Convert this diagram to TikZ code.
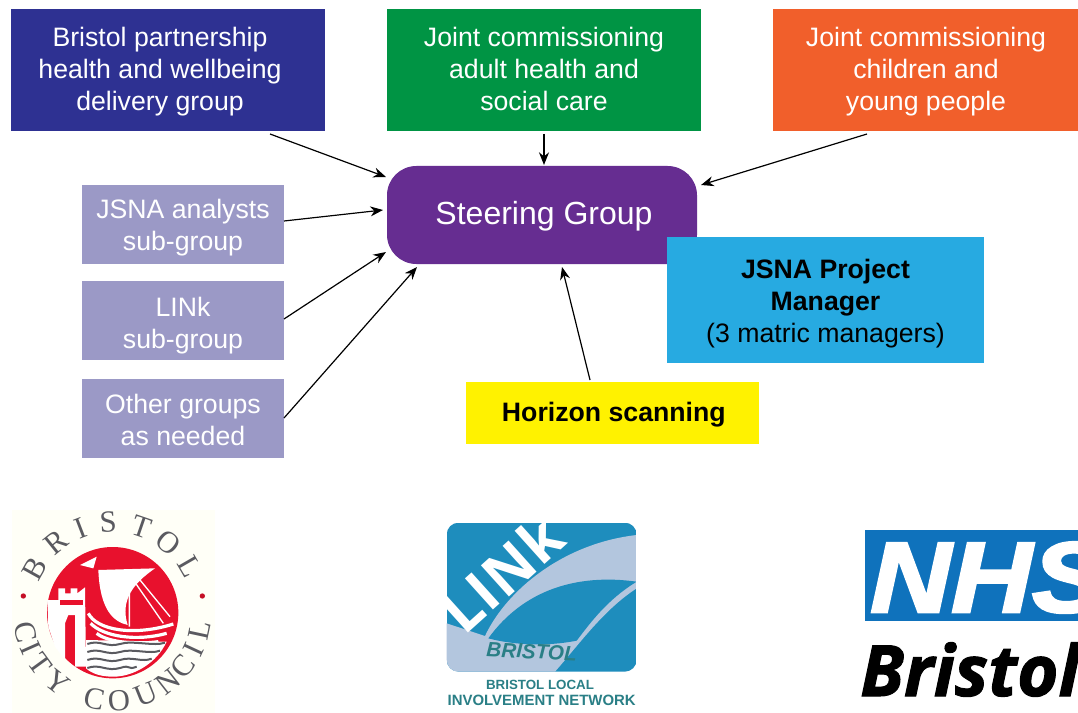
\documentclass[tikz,border=0pt]{standalone}
\usepackage{fontspec}
\setmainfont{Liberation Sans}
\newfontfamily\logoserif{Liberation Serif}
\newfontfamily\logosans[BoldItalicFeatures={FakeBold=1.5}]{Open Sans}
\newfontfamily\nhsfont[BoldItalicFeatures={FakeBold=2.5}]{Liberation Sans}
\usetikzlibrary{arrows.meta}
\definecolor{cblue}{HTML}{2E3192}
\definecolor{cgreen}{HTML}{009444}
\definecolor{corange}{HTML}{F15F2B}
\definecolor{cpurple}{HTML}{662D91}
\definecolor{clilac}{HTML}{9B99C6}
\definecolor{csky}{HTML}{27AAE1}
\definecolor{cyellow}{HTML}{FFF200}
\definecolor{cred}{HTML}{E8112D}
\definecolor{clinkb}{HTML}{1E8DBD}
\definecolor{clinkl}{HTML}{B3C6DE}
\definecolor{cteal}{HTML}{2A7F86}
\definecolor{cnhs}{HTML}{0F72BC}
\definecolor{cgrey}{HTML}{5A5A60}
\newcommand\lbl[3]{\kern#1pt\raisebox{#2pt}[0pt][0pt]{\begin{tabular}{@{}c@{}}#3\end{tabular}}\kern-#1pt}
\tikzset{
  box/.style={anchor=north west,inner sep=0pt,outer sep=0pt,text=white,font=\fontsize{20}{24}\selectfont},
  sub/.style={box,fill=clilac,minimum width=151.5pt,minimum height=59.25pt},
  top/.style={box,minimum height=91.5pt},
  conn/.style={-{Stealth[length=9.5pt,width=7.5pt]},line width=0.9pt,black},
  ltr/.style={text=cgrey,inner sep=0pt,font=\fontsize{23}{23}\logoserif},
}
\begin{document}
\begin{tikzpicture}[x=0.75pt,y=-0.75pt]
\useasboundingbox (0,0) rectangle (1078,713);
\fill[white] (0,0) rectangle (1078,713);
\begin{scope}
\clip (0,0) rectangle (1078,713);
\node[top,fill=cblue,minimum width=235.5pt] (partner) at (11,9) {\lbl{-6}{-6.75}{Bristol partnership\\health and wellbeing\\delivery group}};
\node[top,fill=cgreen,minimum width=235.5pt] (adult) at (387,9) {\lbl{0}{-6.75}{Joint commissioning\\adult health and\\social care}};
\node[top,fill=corange,minimum width=229.5pt] (child) at (773,9) {\lbl{0}{-6.75}{Joint commissioning\\children and\\young people}};
\node[box,fill=cpurple,rounded corners=22pt,minimum width=232.5pt,minimum height=73.5pt,font=\fontsize{24}{28}\selectfont] (steer) at (387,166) {\lbl{1.5}{-8}{Steering Group}};
\node[sub] (analysts) at (82,185) {\lbl{0}{-8.25}{JSNA analysts\\sub-group}};
\node[sub] (link) at (82,281) {\lbl{0}{-9.25}{LINk\\sub-group}};
\node[sub] (other) at (82,379) {\lbl{0}{-8.5}{Other groups\\as needed}};
\node[box,fill=csky,text=black,minimum width=237.75pt,minimum height=94.5pt] (pm) at (667,237) {\lbl{0}{-8.25}{\textbf{JSNA Project}\\\textbf{Manager}\\(3 matric managers)}};
\node[box,fill=cyellow,text=black,minimum width=219.75pt,minimum height=46.5pt] (horizon) at (466,382) {\lbl{1}{-6.75}{\textbf{Horizon scanning}}};
\end{scope}
\coordinate (sA) at (386,177);
\coordinate (sB) at (544,165);
\coordinate (sC) at (701,185);
\coordinate (sD) at (383,210);
\coordinate (sE) at (386,252);
\coordinate (sF) at (417,267);
\coordinate (sG) at (562,267);
\coordinate (fA) at (270,134);
\coordinate (fB) at (544,134);
\coordinate (fC) at (867,134);
\coordinate (fG) at (590,380);
\draw[conn] (fA) -- (sA);
\draw[conn] (fB) -- (sB);
\draw[conn] (fC) -- (sC);
\draw[conn] (analysts.east |- 0,221) -- (sD);
\draw[conn] (link.east |- 0,319) -- (sE);
\draw[conn] (other.east |- 0,418) -- (sF);
\draw[conn] (fG) -- (sG);
% Bristol City Council logo (coordinates in 3x zoom)
\begin{scope}[shift={(0,500)},x=0.25pt,y=-0.25pt]
\fill[white!97!yellow] (36,30) rectangle (645,640);
\fill[cred] (338,338) circle (197);
% tower
\fill[white] (142,300) -- (175,300) -- (175,265) -- (195,265) -- (195,280) -- (212,280) -- (212,265) -- (232,265) -- (232,280) -- (255,262) -- (258,500) -- (225,500) -- (225,345) -- (205,345) -- (195,370) -- (195,480) -- (165,440) -- (145,380) -- cycle;
\fill[cred] (180,300) rectangle (250,315);
% sail
\fill[white] (295,210) -- (465,205) .. controls (400,250) and (360,300) .. (383,375) .. controls (340,365) and (300,330) .. (295,210) -- cycle;
\fill[white] (240,195) -- (290,170) -- (280,205) -- cycle;
\draw[white,line width=1pt] (400,240) -- (490,370) (420,240) -- (510,350) (388,250) -- (388,380);
% hull
\draw[white,line width=2.4pt] (265,340) .. controls (290,390) and (400,410) .. (520,372);
\draw[white,line width=2.4pt] (272,370) .. controls (310,410) and (410,425) .. (500,400);
\draw[white,line width=2.4pt] (290,400) .. controls (320,425) and (400,435) .. (475,425);
% water
\fill[white] (258,420) -- (500,425) .. controls (470,490) and (400,530) .. (340,530) .. controls (300,530) and (275,520) .. (258,505) -- cycle;
\foreach \yy/\xe in {432/495,456/480,480/455,504/410}{
  \draw[cgrey,line width=1.5pt] (262,\yy) .. controls (300,\yy-14) and (320,\yy+12) .. (360,\yy) .. controls (395,\yy-12) and (\xe-30,\yy+8) .. (\xe,\yy-4);
}
\fill[cred!85!black] (70,288) circle (8);
\fill[cred!85!black] (607,288) circle (8);
\foreach \ang/\ch/\k in {151/B/1,129/R/2,111/I/3,93/S/4,71/T/5,51/O/6,30/L/7}
  \node[ltr,rotate=\ang-90] (top\k) at ({338+268*cos(\ang)},{335-268*sin(\ang)}) {\ch};
\foreach \ang/\ch/\k in {193/C/1,204/I/2,216/T/3,232/Y/4,258/C/5,274/O/6,292/U/7,308/N/8,322/C/9,335/I/10,348/L/11}
  \node[ltr,rotate=\ang+90] (bot\k) at ({338+268*cos(\ang)},{335-268*sin(\ang)}) {\ch};
\end{scope}
% LINk logo (coordinates in 3x zoom)
\begin{scope}[shift={(430,510)},x=0.25pt,y=-0.25pt]
\begin{scope}
\clip[rounded corners=9pt] (50,38) rectangle (620,485);
\fill[clinkb] (50,38) rectangle (620,485);
\fill[clinkl] (50,340) -- (165,378) .. controls (230,240) and (400,100) .. (620,75) -- (620,235) .. controls (520,300) and (450,400) .. (375,485) -- (50,485) -- cycle;
\fill[clinkb] (175,385) .. controls (280,240) and (440,190) .. (620,215) .. controls (530,270) and (480,340) .. (440,392) .. controls (350,410) and (250,405) .. (175,385) -- cycle;
\node[rotate=42,text=white,inner sep=0pt] (linkword) at (215,190) {\fontsize{44}{44}\logosans\bfseries L\kern1pt I\kern1pt N\kern1pt k};
\end{scope}
\node[rotate=-3,text=cteal,inner sep=0pt] (linkbr) at (305,425) {\fontsize{15.5}{15.5}\selectfont\itshape\bfseries BRISTOL};
\node[text=cteal,inner sep=0pt] (linkl1) at (330,525) {\fontsize{10}{10}\selectfont\bfseries BRISTOL LOCAL};
\node[text=cteal,inner sep=0pt] (linkl2) at (335,570) {\fontsize{11.2}{11.2}\selectfont\bfseries INVOLVEMENT NETWORK};
\end{scope}
% NHS logo
\begin{scope}
\clip (0,0) rectangle (1078,713);
\fill[cnhs] (865,530) rectangle (1090,621);
\node[anchor=base west,text=white,inner sep=0pt,xscale=1.12,transform shape] (nhs) at (870,612) {\fontsize{75}{75}\nhsfont\bfseries\itshape NHS};
\node[anchor=base west,text=black,inner sep=0pt] (bristol) at (860,696) {\fontsize{53}{53}\logosans\bfseries\itshape Bristol};
\end{scope}
\end{tikzpicture}
\end{document}
